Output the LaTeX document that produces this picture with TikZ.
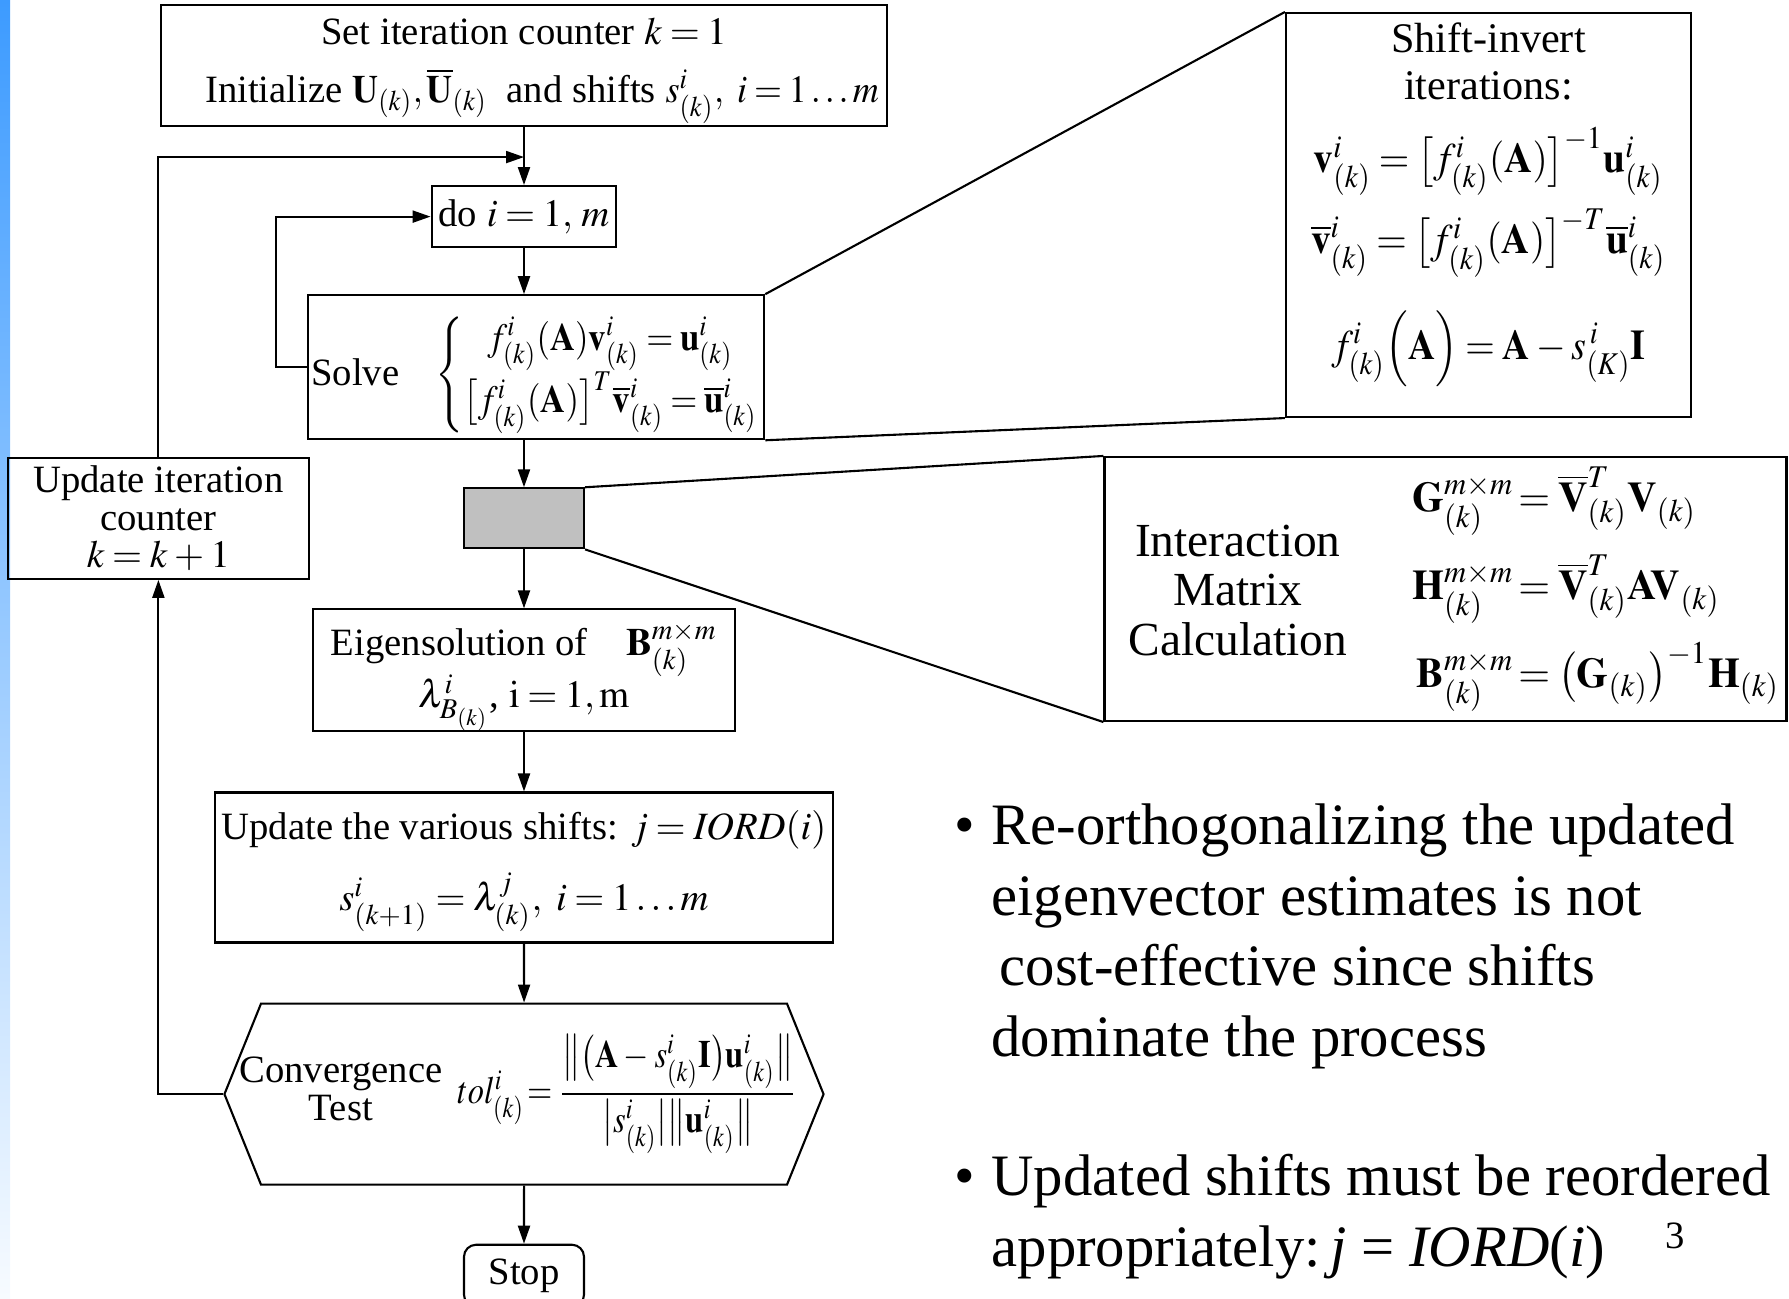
\documentclass[tikz,border=0pt]{standalone}
\usepackage{amsmath}
\usepackage{mathptmx}
\usepackage[no-math]{fontspec}
\setmainfont{Liberation Serif}
\usepackage{graphicx}
\usepackage{xcolor}
\usepackage{tikz}
\usetikzlibrary{positioning,arrows.meta,shapes.symbols}
\definecolor{barblue}{HTML}{3D9BFF}
\definecolor{boxgray}{HTML}{C0C0C0}
\thickmuskip=3.5mu plus 2mu minus 1mu
\medmuskip=3mu plus 1mu minus 1mu
\newcommand{\squeeze}[2]{\scalebox{#1}[1]{#2}}

\begin{document}
\begin{tikzpicture}[font=\fontsize{11}{13.2}\selectfont, line width=0.6pt,
  box/.style={draw, align=center, inner sep=2pt},
  tight/.style={font=\fontsize{11}{10.7}\selectfont},
  arr/.style={-{Triangle[length=1.8mm, width=1.2mm]}}]
\useasboundingbox (0,0) rectangle (17.89,-12.99);
\shade[top color=barblue, bottom color=barblue!4] (0,0) rectangle (0.10,-12.99);
% main loop
\node[box, inner ysep=0pt, minimum width=7.26cm, minimum height=1.21cm] (init) at (5.24,-0.655) {\rule{0pt}{0.37cm}Set iteration counter $k=1$\\[0.12cm] \hspace*{0.36cm}Initialize \squeeze{0.93}{$\mathbf{U}_{(k)},\overline{\mathbf{U}}_{(k)}$}\ \ and shifts \squeeze{0.93}{$s^i_{(k)},\ i=1\ldots m$}};
\node[box, minimum width=1.81cm, minimum height=0.61cm, below=0.58cm of init] (doloop) {do $i=1,\,m$};
\node[box, minimum width=4.46cm, minimum height=1.44cm, inner xsep=1pt, inner ysep=0pt, below=0.46cm of doloop, xshift=0.12cm] (solve) {\rule{0pt}{0.84cm}Solve\hspace{0.36cm}\squeeze{0.9}{$\left\{\begin{array}{@{}c@{}} f^i_{(k)}(\mathbf{A})\mathbf{v}^i_{(k)} = \mathbf{u}^i_{(k)}\\[0.08cm] \bigl[f^i_{(k)}(\mathbf{A})\bigr]^T\overline{\mathbf{v}}^i_{(k)} = \overline{\mathbf{u}}^i_{(k)}\end{array}\right.$}};
\node[draw, fill=boxgray, minimum width=1.20cm, minimum height=0.60cm, below=0.47cm of solve, xshift=-0.12cm] (gray) {};
\node[box, minimum width=4.22cm, minimum height=1.20cm, inner ysep=0pt, below=0.59cm of gray] (eig) {\rule{0pt}{0.46cm}Eigensolution of\quad$\mathbf{B}^{m\times m}_{(k)}$\\[-0.06cm] $\lambda^i_{B_{(k)}}$,\ $\mathrm{i}=1,\mathrm{m}$};
\node[box, minimum width=6.04cm, minimum height=1.50cm, inner ysep=0pt, below=0.59cm of eig] (upd) {\rule{0pt}{0.36cm}Update the various shifts: $j=\mathit{IORD}(i)$\\[0.2cm] $s^i_{(k+1)}=\lambda^j_{(k)},\ i=1\ldots m$};
\node[draw, signal, signal to=west and east, signal pointer angle=136, minimum width=5.26cm, minimum height=1.81cm, inner sep=0pt, below=0.59cm of upd] (conv) {\makebox[5.26cm][c]{\fontsize{11}{10.7}\selectfont\begin{tabular}{@{}c@{}}Convergence\\Test\end{tabular}\hspace{0.15cm}\squeeze{0.84}{$tol^i_{(k)}\!=\dfrac{\bigl\|\bigl(\mathbf{A}-s^i_{(k)}\mathbf{I}\bigr)\mathbf{u}^i_{(k)}\bigr\|}{\bigl|s^i_{(k)}\bigr|\bigl\|\mathbf{u}^i_{(k)}\bigr\|}$}\hspace{0.12cm}}};
\node[box, rounded corners=0.12cm, minimum width=1.20cm, minimum height=0.62cm, below=0.58cm of conv] (stop) {Stop};
\node[box, tight, minimum width=3.01cm, minimum height=1.21cm, left=1.53cm of gray] (uit) {Update iteration\\counter\\$k=k+1$};
\coordinate[below=0.30cm of init.south] (loopjoin);
% zoomed boxes
\node[box, minimum width=4.05cm, minimum height=4.04cm] (shinv) at (14.885,-2.15) {};
\node[align=center, inner sep=0pt, font=\fontsize{12}{13.2}\selectfont, below=0.1cm of shinv.north] (shinvtxt) {Shift-invert\\iterations:\\[0.27cm]
  \squeeze{0.93}{$\mathbf{v}^i_{(k)} = \bigl[f^i_{(k)}(\mathbf{A})\bigr]^{-1}\mathbf{u}^i_{(k)}$}\\[0.10cm]
  \squeeze{0.93}{$\overline{\mathbf{v}}^i_{(k)} = \bigl[f^i_{(k)}(\mathbf{A})\bigr]^{-T}\overline{\mathbf{u}}^i_{(k)}$}\\[0.30cm]
  \squeeze{0.9}{$f^i_{(k)}\Bigl(\mathbf{A}\Bigr) = \mathbf{A} - s^{\,i}_{(K)}\mathbf{I}$}};
\node[box, minimum width=6.81cm, minimum height=2.64cm, font=\fontsize{12}{14}\selectfont] (imc) at (14.455,-5.89) {\hspace*{0.17cm}\raisebox{-0.07cm}{\begin{tabular}{@{}c@{}}\fontsize{13.5}{14.3}\selectfont Interaction\\\fontsize{13.5}{14.3}\selectfont Matrix\\\fontsize{13.5}{14.3}\selectfont Calculation\end{tabular}}\hspace{0.65cm}\squeeze{0.97}{$\begin{array}{@{}r@{\,}l@{}}
  \mathbf{G}^{m\times m}_{(k)} &= \overline{\mathbf{V}}^T_{(k)}\mathbf{V}_{(k)}\\[0.28cm]
  \mathbf{H}^{m\times m}_{(k)} &= \overline{\mathbf{V}}^T_{(k)}\mathbf{A}\mathbf{V}_{(k)}\\[0.28cm]
  \mathbf{B}^{m\times m}_{(k)} &= \bigl(\mathbf{G}_{(k)}\bigr)^{-1}\mathbf{H}_{(k)}\end{array}$}};
% bullets
\node[anchor=base west, inner sep=0pt, font=\fontsize{16.7}{20.2}\selectfont] (bullet1) at (9.53,-8.44) {\begin{tabular}[t]{@{}l@{\hspace{0.17cm}}l@{}}\textbullet & Re-orthogonalizing the updated\\ & eigenvector estimates is not\\ & \hspace{0.08cm}cost-effective since shifts\\ & dominate the process\end{tabular}};
\node[anchor=base west, inner sep=0pt, font=\fontsize{16.7}{20.2}\selectfont] (bullet2) at (9.53,-11.95) {\begin{tabular}[t]{@{}l@{\hspace{0.17cm}}l@{}}\textbullet & Updated shifts must be reordered\\ & appropriately:\,\textit{j} = \textit{IORD}(\textit{i})\end{tabular}};
\node (pagenum) at (16.75,-12.36) {3};
% connectors
\draw[arr] (init) -- (doloop);
\draw[arr] (uit.north) |- (loopjoin);
\draw[arr] (doloop.south) -- (doloop.south |- solve.north);
\draw[arr] (solve.west) -- ++(-0.31,0) |- (doloop.west);
\draw[arr] (gray.north |- solve.south) -- (gray);
\draw[arr] (gray) -- (eig);
\draw[arr] (eig) -- (upd);
\draw[arr] (upd) -- (conv);
\draw[arr] (conv) -- (stop);
\draw[arr] (conv.west) -| (uit.south);
\draw (solve.north east) -- (shinv.north west);
\draw (solve.south east) -- (shinv.south west);
\draw (gray.north east) -- (imc.north west);
\draw (gray.south east) -- (imc.south west);
\end{tikzpicture}
\end{document}
